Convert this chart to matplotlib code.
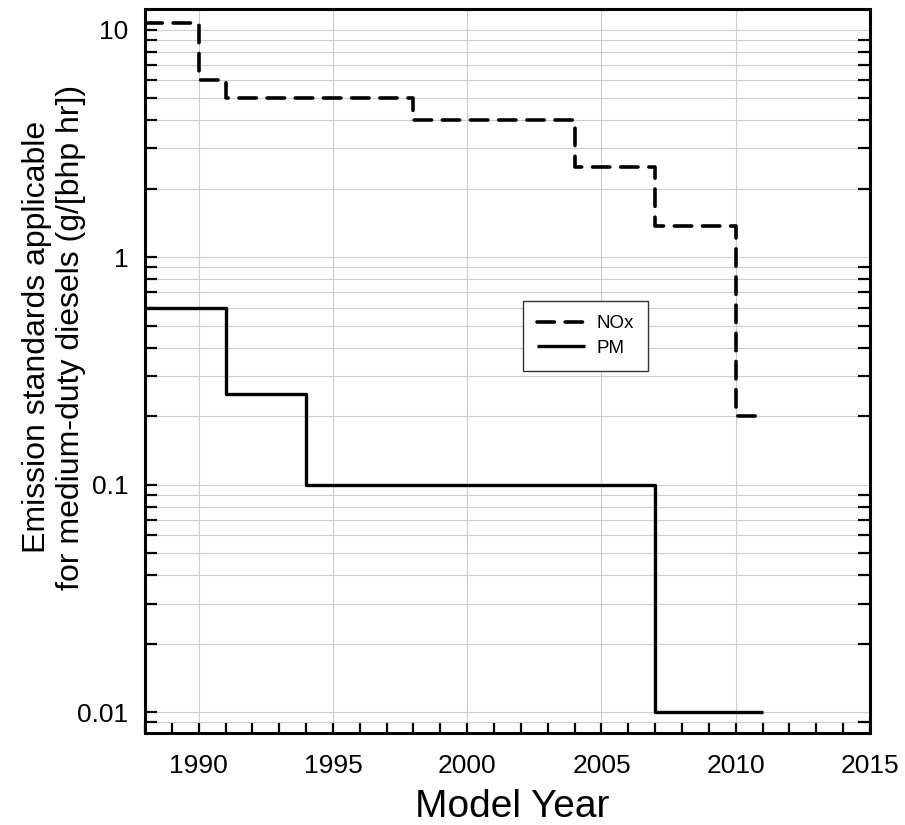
import matplotlib
matplotlib.use("Agg")
import matplotlib.pyplot as plt
from matplotlib.ticker import MultipleLocator, LogLocator, FuncFormatter, NullFormatter

plt.rcParams['font.family'] = ['Liberation Sans', 'DejaVu Sans']

# Data
nox_years = [1988, 1990, 1991, 1998, 2004, 2007, 2010, 2011]
nox_values = [10.7, 6.0, 5.0, 4.0, 2.5, 1.37, 0.2, 0.2]
pm_years = [1988, 1991, 1994, 2007, 2011]
pm_values = [0.6, 0.25, 0.1, 0.01, 0.01]
x_ticks = [1990, 1995, 2000, 2005, 2010, 2015]
y_ticks = [0.01, 0.1, 1, 10]

W, H = 905, 825
fig = plt.figure(figsize=(W / 100, H / 100), dpi=100)
ax = fig.add_axes([0.1602, 0.1115, 0.8011, 0.8775])

ax.plot(nox_years, nox_values, drawstyle='steps-post', color='black', lw=2.6,
        dashes=(4.8, 3.0), dash_capstyle='round', label='NOx')
ax.plot(pm_years, pm_values, drawstyle='steps-post', color='black', lw=2.4,
        solid_capstyle='butt', label='PM')

ax.set_yscale('log')
ax.set_xlim(1988, 2015)
ax.set_ylim(0.00809, 12.3)

ax.xaxis.set_major_locator(plt.FixedLocator(x_ticks))
ax.xaxis.set_minor_locator(MultipleLocator(1))
ax.yaxis.set_major_locator(plt.FixedLocator(y_ticks))
ax.yaxis.set_minor_locator(LogLocator(base=10, subs=range(2, 10)))
ax.yaxis.set_major_formatter(FuncFormatter(lambda v, p: '%g' % v))
ax.yaxis.set_minor_formatter(NullFormatter())

ax.grid(True, which='major', axis='x', color='#cccccc', lw=0.8)
ax.grid(True, which='both', axis='y', color='#cccccc', lw=0.8)
ax.set_axisbelow(True)

for s in ax.spines.values():
    s.set_linewidth(2.2)

ax.tick_params(axis='x', which='both', direction='in', top=False, bottom=True,
               length=7, width=1.6, labelsize=19, pad=15)
ax.tick_params(axis='y', which='both', direction='in', left=True,
               length=8.5, width=1.6, labelsize=19, pad=12)
ax.tick_params(axis='y', which='minor', right=True)
ax.tick_params(axis='y', which='major', right=False)

fig.text(512 / W, 1 - 817 / H, 'Model Year', fontsize=28, ha='center', va='baseline')
fig.text(54 / W, 1 - 337 / H,
         'Emission standards applicable\nfor medium-duty diesels (g/[bhp hr])',
         fontsize=23, rotation=90, ha='center', va='center',
         multialignment='center', linespacing=1.15)

leg = ax.legend(loc='upper left', bbox_to_anchor=(0.521, 0.5967), borderaxespad=0,
                fontsize=13.5, frameon=True, fancybox=False, framealpha=1,
                edgecolor='#333333', handlelength=2.56, borderpad=0.75,
                labelspacing=0.4, handletextpad=0.64)
leg.get_frame().set_linewidth(1.0)

fig.savefig('out.png', dpi=100)
